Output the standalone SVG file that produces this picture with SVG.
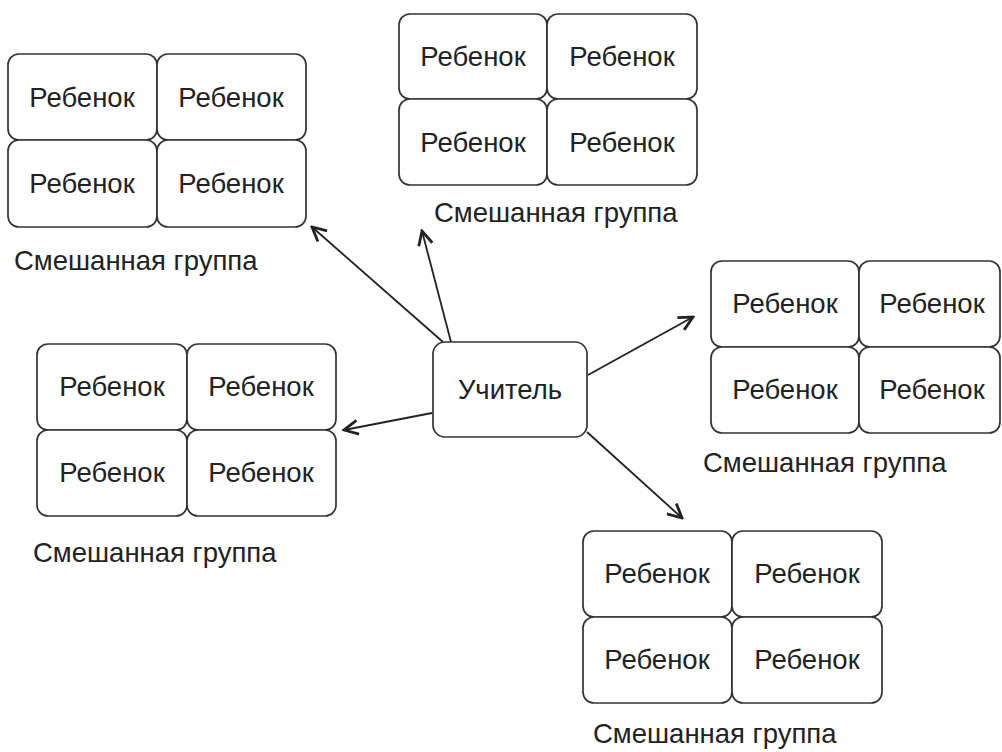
<svg xmlns="http://www.w3.org/2000/svg" width="1002" height="752" viewBox="0 0 1002 752">
<defs>
<style>
.cell{fill:#fff;stroke:#333;stroke-width:1.7}
.t{font-family:"Liberation Sans",Arial,sans-serif;font-size:27.5px;fill:#222;text-anchor:middle}
.cap{font-family:"Liberation Sans",Arial,sans-serif;font-size:27.5px;fill:#222}
.conn{stroke:#222;stroke-width:1.8;fill:none;marker-end:url(#ah)}
</style>
<marker id="ah" viewBox="0 0 20 20" refX="18" refY="10" markerWidth="20" markerHeight="20" markerUnits="userSpaceOnUse" orient="auto">
<path d="M4,3 L18,10 L4,17" fill="none" stroke="#222" stroke-width="2.8"/>
</marker>
</defs>
<rect width="1002" height="752" fill="#fff"/>
<g id="connectors">
<line class="conn" x1="443" y1="342" x2="312" y2="227"/>
<line class="conn" x1="451" y1="342" x2="422" y2="231"/>
<line class="conn" x1="588" y1="375" x2="693" y2="317"/>
<line class="conn" x1="432" y1="413" x2="344" y2="430"/>
<line class="conn" x1="587" y1="432" x2="682" y2="518"/>
</g>
<g id="teacher">
<rect class="cell" x="433" y="342" width="154" height="95" rx="12"/>
<text class="t" x="510" y="399">Учитель</text>
</g>
<g id="group1">
<rect class="cell" x="8" y="54" width="149" height="86" rx="11"/>
<rect class="cell" x="157" y="54" width="149" height="86" rx="11"/>
<rect class="cell" x="8" y="140" width="149" height="87" rx="11"/>
<rect class="cell" x="157" y="140" width="149" height="87" rx="11"/>
<text class="t" x="82" y="107">Ребенок</text>
<text class="t" x="231" y="107">Ребенок</text>
<text class="t" x="82" y="193">Ребенок</text>
<text class="t" x="231" y="193">Ребенок</text>
<text class="cap" x="14" y="270">Смешанная группа</text>
</g>
<g id="group2">
<rect class="cell" x="399" y="14" width="148" height="85" rx="11"/>
<rect class="cell" x="547" y="14" width="150" height="85" rx="11"/>
<rect class="cell" x="399" y="99" width="148" height="86" rx="11"/>
<rect class="cell" x="547" y="99" width="150" height="86" rx="11"/>
<text class="t" x="473" y="66">Ребенок</text>
<text class="t" x="622" y="66">Ребенок</text>
<text class="t" x="473" y="152">Ребенок</text>
<text class="t" x="622" y="152">Ребенок</text>
<text class="cap" x="434" y="222">Смешанная группа</text>
</g>
<g id="group3">
<rect class="cell" x="711" y="261" width="148" height="86" rx="11"/>
<rect class="cell" x="859" y="261" width="141" height="86" rx="11"/>
<rect class="cell" x="711" y="347" width="148" height="86" rx="11"/>
<rect class="cell" x="859" y="347" width="141" height="86" rx="11"/>
<text class="t" x="785" y="313">Ребенок</text>
<text class="t" x="932" y="313">Ребенок</text>
<text class="t" x="785" y="399">Ребенок</text>
<text class="t" x="932" y="399">Ребенок</text>
<text class="cap" x="703" y="472">Смешанная группа</text>
</g>
<g id="group4">
<rect class="cell" x="37" y="344" width="150" height="86" rx="11"/>
<rect class="cell" x="187" y="344" width="149" height="86" rx="11"/>
<rect class="cell" x="37" y="430" width="150" height="86" rx="11"/>
<rect class="cell" x="187" y="430" width="149" height="86" rx="11"/>
<text class="t" x="112" y="396">Ребенок</text>
<text class="t" x="261" y="396">Ребенок</text>
<text class="t" x="112" y="482">Ребенок</text>
<text class="t" x="261" y="482">Ребенок</text>
<text class="cap" x="33" y="562">Смешанная группа</text>
</g>
<g id="group5">
<rect class="cell" x="583" y="531" width="149" height="86" rx="11"/>
<rect class="cell" x="732" y="531" width="150" height="86" rx="11"/>
<rect class="cell" x="583" y="617" width="149" height="86" rx="11"/>
<rect class="cell" x="732" y="617" width="150" height="86" rx="11"/>
<text class="t" x="657" y="583">Ребенок</text>
<text class="t" x="807" y="583">Ребенок</text>
<text class="t" x="657" y="669">Ребенок</text>
<text class="t" x="807" y="669">Ребенок</text>
<text class="cap" x="593" y="743">Смешанная группа</text>
</g>
</svg>
